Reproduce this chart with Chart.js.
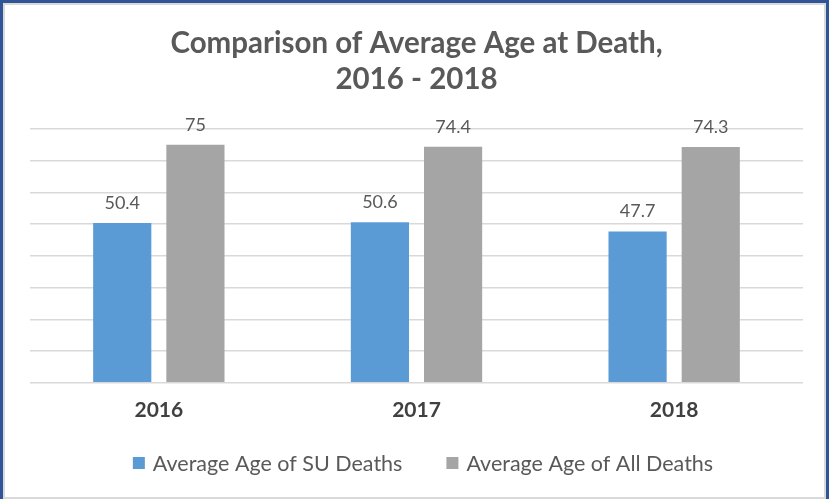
<!DOCTYPE html>
<html>
<head>
<meta charset="utf-8">
<script src="https://cdn.jsdelivr.net/npm/chart.js@4.4.1/dist/chart.umd.min.js"></script>
<style>
  html, body { margin: 0; padding: 0; background: #ffffff; }
  #frame {
    position: absolute; left: 0; top: 0; width: 829px; height: 499px;
    box-sizing: border-box;
    border-left: 3px solid #2F5597; border-top: 3px solid #2F5597; border-right: 3px solid #2F5597;
    box-shadow: inset 2px 2px 0 #d9d9d9, inset -2px -2px 0 #d9d9d9;
  }
  #wrap { position: absolute; left: 0; top: 0; width: 829px; height: 499px; }
</style>
</head>
<body>
<div id="wrap"><canvas id="c" width="829" height="499"></canvas></div>
<div id="frame"></div>
<script>
const categories = ['2016', '2017', '2018'];
const suDeaths = [50.4, 50.6, 47.7];
const allDeaths = [75, 74.4, 74.3];
const seriesNames = ['Average Age of SU Deaths', 'Average Age of All Deaths'];
const seriesColors = ['#5B9BD5', '#A5A5A5'];
const titleLines = ['Comparison of Average Age at Death,', '2016 - 2018'];

const FONT = 'Lato, "Open Sans", sans-serif';

const valueLabels = {
  id: 'valueLabels',
  afterDatasetsDraw(chart) {
    const ctx = chart.ctx;
    ctx.save();
    ctx.font = '18px ' + FONT;
    ctx.fillStyle = '#595959';
    ctx.textAlign = 'center';
    ctx.textBaseline = 'bottom';
    chart.data.datasets.forEach((ds, i) => {
      chart.getDatasetMeta(i).data.forEach((bar, j) => {
        ctx.fillText(String(ds.data[j]), bar.x, bar.y - 11);
      });
    });
    ctx.restore();
  }
};

// Custom bottom legend (Excel-like spacing)
const bottomLegend = {
  id: 'bottomLegend',
  afterDraw(chart) {
    const ctx = chart.ctx;
    ctx.save();
    ctx.font = '21.5px ' + FONT;
    ctx.textBaseline = 'middle';
    ctx.textAlign = 'left';
    const box = 12, gapBox = 8, gapItem = 44;
    const widths = chart.data.datasets.map(ds => ctx.measureText(ds.label).width);
    let total = 0;
    widths.forEach((w, i) => { total += box + gapBox + w + (i < widths.length - 1 ? gapItem : 0); });
    let x = 423 - total / 2;
    const cy = 463;
    chart.data.datasets.forEach((ds, i) => {
      ctx.fillStyle = ds.backgroundColor;
      ctx.fillRect(x, cy - box / 2, box, box);
      x += box + gapBox;
      ctx.fillStyle = '#595959';
      ctx.fillText(ds.label, x, cy + 1);
      x += widths[i] + gapItem;
    });
    ctx.restore();
  }
};

new Chart(document.getElementById('c'), {
  type: 'bar',
  data: {
    labels: categories,
    datasets: [
      { label: seriesNames[0], data: suDeaths, backgroundColor: seriesColors[0] },
      { label: seriesNames[1], data: allDeaths, backgroundColor: seriesColors[1] }
    ]
  },
  options: {
    responsive: false,
    animation: false,
    devicePixelRatio: 1,
    categoryPercentage: 0.568,
    barPercentage: 0.795,
    layout: { padding: { left: 30, right: 26, top: 0, bottom: 69 } },
    plugins: {
      title: {
        display: true,
        text: titleLines,
        color: '#595959',
        font: { family: FONT, size: 29.5, weight: 'bold', lineHeight: 1.22 },
        padding: { top: 25, bottom: 32 }
      },
      legend: { display: false },
      tooltip: { enabled: false }
    },
    scales: {
      x: {
        grid: { display: false },
        border: { display: false },
        ticks: { color: '#404040', font: { family: FONT, size: 21, weight: 'bold' }, padding: 7 }
      },
      y: {
        min: 0, max: 80,
        ticks: { display: false, stepSize: 10 },
        grid: { color: '#d9d9d9', lineWidth: 1.5, drawTicks: false },
        border: { display: false }
      }
    }
  },
  plugins: [valueLabels, bottomLegend]
});
</script>
</body>
</html>
